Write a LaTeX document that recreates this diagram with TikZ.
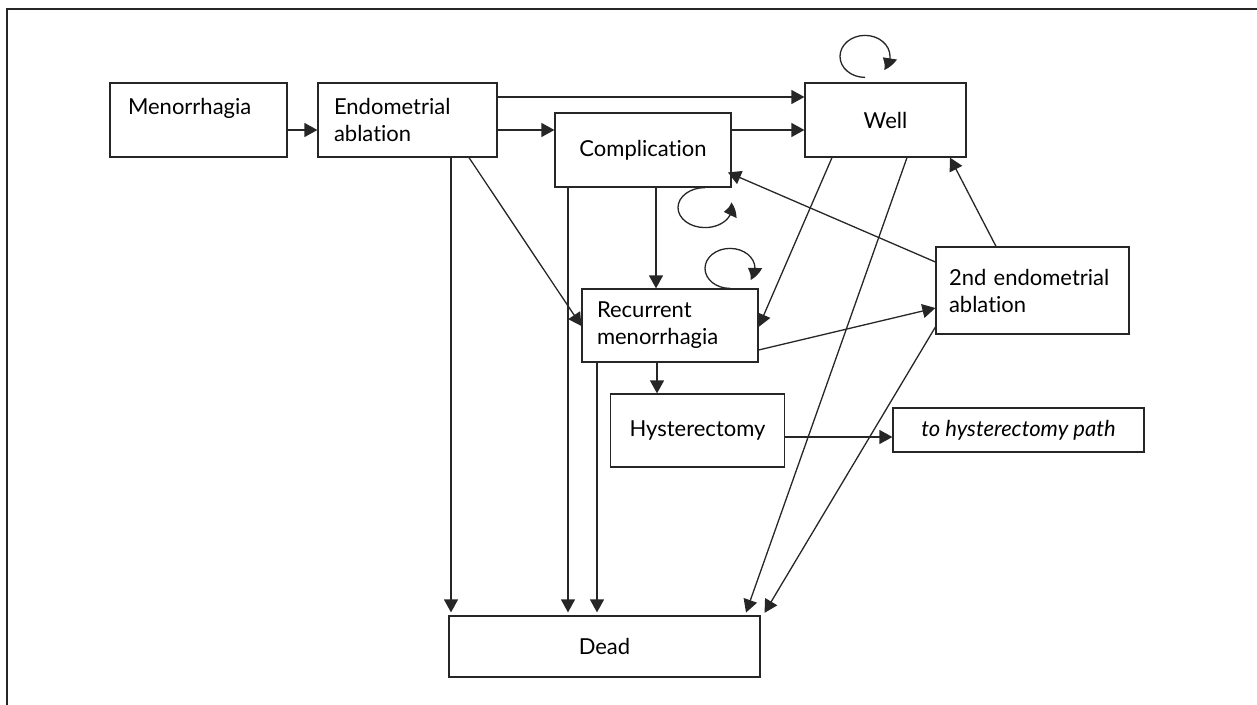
\documentclass[tikz,border=0pt]{standalone}
\usepackage{fontspec}
\setmainfont{Lato}[Ligatures=NoCommon]
\usetikzlibrary{arrows.meta,calc,bending}
\begin{document}
\begin{tikzpicture}[x=0.5pt,y=-0.5pt,
  box/.style={draw=black!85, line width=0.6pt, rectangle, inner sep=0pt,
    font=\fontsize{11}{13.5}\selectfont},
  lbox/.style={box, align=left},
  arr/.style={draw=black!85, line width=0.65pt, -{Triangle[length=6.5pt,width=7pt]}},
  looparr/.style={draw=black!85, line width=0.65pt, -{Triangle[length=6.5pt,width=7pt,bend]}},
  frameline/.style={draw=black!85, line width=0.8pt}]
\useasboundingbox (0,0) rectangle (1257,705);
\draw[frameline] (1257,9) -- (7,9) -- (7,705);

% boxes
\node[lbox, minimum height=37pt, text width=70.5pt, inner xsep=9pt] (men) at (198.5,120) {Menorrhagia\\\mbox{}};
\node[lbox, minimum height=37pt, text width=73.5pt, inner xsep=8pt] (ea) at (407.5,120) {Endometrial\\ablation};
\node[box, minimum width=88pt, minimum height=37pt] (comp) at (643,150) {Complication};
\node[box, minimum width=80.5pt, minimum height=37pt] (well) at (885.5,120) {Well};
\node[lbox, minimum height=43.5pt, text width=83.5pt, inner xsep=6.5pt] (sea) at (1032.5,290.5) {2nd endometrial\\ablation};
\node[lbox, minimum height=36.5pt, text width=73pt, inner xsep=7.5pt] (rec) at (670,325.5) {Recurrent\\menorrhagia};
\node[box, minimum width=87pt, minimum height=36.5pt] (hyst) at (697.5,430.5) {Hysterectomy};
\node[box, minimum width=125.5pt, minimum height=22pt, font=\fontsize{11}{13.5}\selectfont\itshape] (path) at (1018.5,430) {to hysterectomy path};
\node[box, minimum width=155.5pt, minimum height=30.5pt] (dead) at (604.5,646.5) {Dead};

% connectors
\draw[arr] (men.east |- 0,130) -- (ea.west |- 0,130);
\draw[arr] (ea.east |- 0,97) -- (well.west |- 0,97);
\draw[arr] (ea.east |- 0,130) -- (comp.west |- 0,130);
\draw[arr] (comp.east |- 0,130) -- (well.west |- 0,130);
\draw[arr, shorten >=1.5pt] (ea.south -| 451,0) -- (dead.north -| 451,0);
\draw[arr] (ea.south -| 469,0) -- (rec.west |- 0,326);
\draw[arr, shorten >=1.5pt] (comp.south -| 568,0) -- (dead.north -| 568,0);
\draw[arr] (comp.south -| 656,0) -- (rec.north -| 656,0);
\draw[arr, shorten >=1.5pt] (rec.south -| 597,0) -- (dead.north -| 597,0);
\draw[arr] (rec.south -| 657,0) -- (hyst.north -| 657,0);
\draw[arr] (hyst.east |- 0,437) -- (path.west |- 0,437);
\draw[arr] (rec.east |- 0,350) -- (sea.west |- 0,308);
\draw[arr] (well.south -| 832,0) -- (rec.east |- 0,327);
\draw[arr, shorten >=1.5pt] (well.south -| 907,0) -- (dead.north -| 745,0);
\draw[arr, shorten >=-2pt] (sea.west |- 0,262) -- (comp.east |- 0,174);
\draw[arr] (sea.north -| 996,0) -- (well.south -| 950,0);
\draw[arr, shorten >=1.5pt] (sea.west |- 0,327) -- (dead.north -| 763,0);

% self loops
\coordinate (cl) at (comp.south -| 705,0);
\draw[looparr] (cl) arc[start angle=90, end angle=375, x radius=13.5pt, y radius=10pt];
\coordinate (rl) at (rec.north -| 730,0);
\draw[looparr] (rl) arc[start angle=270, end angle=-35, x radius=12.5pt, y radius=10pt];
\coordinate (wl) at ($(well.north -| 865,0)+(0,-5)$);
\draw[looparr] (wl) arc[start angle=270, end angle=-40, x radius=12.5pt, y radius=10.5pt];
\end{tikzpicture}
\end{document}
